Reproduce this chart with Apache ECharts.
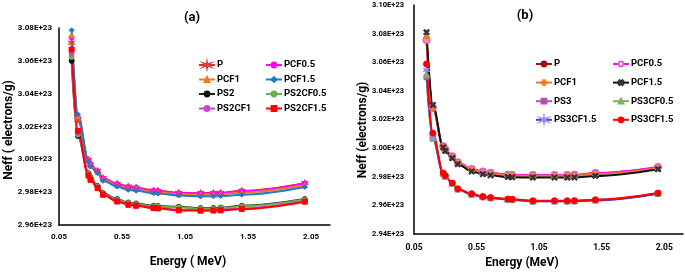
<!DOCTYPE html>
<html><head><meta charset="utf-8">
<script src="https://cdn.jsdelivr.net/npm/echarts@6/dist/echarts.min.js"></script>
<style>html,body{margin:0;padding:0;background:#fff}#c{width:685px;height:272px}</style>
</head><body><div id="c"></div>
<script>
// Energies (MeV)
const energies = [0.15, 0.2, 0.284, 0.3, 0.356, 0.4, 0.511, 0.6, 0.662, 0.8, 0.835, 1.0, 1.173, 1.275, 1.332, 1.5, 2.0];
const xTicks = [0.05, 0.55, 1.05, 1.55, 2.05];
const yTicksA = [2.96, 2.98, 3.00, 3.02, 3.04, 3.06, 3.08];
const yTicksB = [2.94, 2.96, 2.98, 3.00, 3.02, 3.04, 3.06, 3.08, 3.10];

// Panel (a) Neff, units of 1E+23 electrons/g
const a_P        = [3.0710, 3.0240, 2.9996, 2.9970, 2.9930, 2.9885, 2.9851, 2.9834, 2.9828, 2.9810, 2.9808, 2.9796, 2.9794, 2.9795, 2.9796, 2.9808, 2.9855];
const a_PCF05    = [3.0742, 3.0255, 2.9994, 2.9968, 2.9928, 2.9883, 2.9849, 2.9832, 2.9826, 2.9808, 2.9806, 2.9794, 2.9792, 2.9793, 2.9794, 2.9806, 2.9853];
const a_PCF1     = [3.0756, 3.0262, 2.9990, 2.9962, 2.9922, 2.9877, 2.9842, 2.9824, 2.9818, 2.9801, 2.9799, 2.9787, 2.9785, 2.9786, 2.9787, 2.9797, 2.9843];
const a_PCF15    = [3.0786, 3.0274, 2.9986, 2.9956, 2.9916, 2.9869, 2.9834, 2.9814, 2.9808, 2.9794, 2.9792, 2.9780, 2.9774, 2.9775, 2.9776, 2.9784, 2.9831];
const a_PS2      = [3.0600, 3.0142, 2.9915, 2.9890, 2.9838, 2.9794, 2.9758, 2.9737, 2.9731, 2.9717, 2.9715, 2.9711, 2.9703, 2.9704, 2.9706, 2.9717, 2.9758];
const a_PS2CF05  = [3.0624, 3.0150, 2.9912, 2.9887, 2.9835, 2.9791, 2.9755, 2.9734, 2.9728, 2.9714, 2.9712, 2.9708, 2.9700, 2.9701, 2.9703, 2.9714, 2.9755];
const a_PS2CF1   = [3.0645, 3.0162, 2.9906, 2.9880, 2.9830, 2.9788, 2.9748, 2.9727, 2.9721, 2.9707, 2.9705, 2.9693, 2.9691, 2.9692, 2.9693, 2.9701, 2.9746];
const a_PS2CF15  = [3.0669, 3.0173, 2.9901, 2.9875, 2.9825, 2.9784, 2.9743, 2.9723, 2.9717, 2.9703, 2.9701, 2.9689, 2.9687, 2.9688, 2.9689, 2.9697, 2.9742];

// Panel (b)
const b_P        = [3.0762, 3.0280, 3.0011, 2.9988, 2.9941, 2.9900, 2.9853, 2.9835, 2.9826, 2.9812, 2.9810, 2.9811, 2.9811, 2.9811, 2.9812, 2.9824, 2.9866];
const b_PCF05    = [3.0755, 3.0283, 3.0013, 2.9990, 2.9943, 2.9902, 2.9855, 2.9837, 2.9828, 2.9814, 2.9812, 2.9813, 2.9813, 2.9813, 2.9814, 2.9826, 2.9868];
const b_PCF1     = [3.0770, 3.0278, 3.0008, 2.9985, 2.9938, 2.9897, 2.9850, 2.9831, 2.9822, 2.9808, 2.9806, 2.9807, 2.9807, 2.9807, 2.9808, 2.9820, 2.9862];
const b_PCF15    = [3.0810, 3.0302, 3.0005, 2.9980, 2.9930, 2.9888, 2.9837, 2.9818, 2.9810, 2.9798, 2.9796, 2.9795, 2.9794, 2.9794, 2.9795, 2.9806, 2.9853];
const b_PS3      = [3.0496, 3.0068, 2.9822, 2.9803, 2.9752, 2.9713, 2.9677, 2.9659, 2.9652, 2.9641, 2.9640, 2.9629, 2.9629, 2.9629, 2.9630, 2.9636, 2.9683];
const b_PS3CF05  = [3.0512, 3.0070, 2.9823, 2.9804, 2.9753, 2.9714, 2.9678, 2.9660, 2.9653, 2.9642, 2.9641, 2.9630, 2.9630, 2.9630, 2.9631, 2.9637, 2.9684];
const b_PS3CF15a = [3.0546, 3.0080, 2.9822, 2.9803, 2.9752, 2.9712, 2.9677, 2.9658, 2.9651, 2.9640, 2.9639, 2.9628, 2.9628, 2.9628, 2.9629, 2.9635, 2.9682];
const b_PS3CF15b = [3.0588, 3.0105, 2.9826, 2.9807, 2.9756, 2.9716, 2.9681, 2.9662, 2.9655, 2.9644, 2.9643, 2.9632, 2.9632, 2.9632, 2.9633, 2.9639, 2.9686];

function starPath(n, ro, ri) {
  let s = 'path://';
  for (let i = 0; i < 2 * n; i++) {
    const r = i % 2 === 0 ? ro : ri;
    const ang = Math.PI * i / n - Math.PI / 2;
    s += (i === 0 ? 'M' : 'L') + (10 + r * Math.cos(ang)).toFixed(2) + ',' + (10 + r * Math.sin(ang)).toFixed(2) + ' ';
  }
  return s + 'Z';
}
const asterisk = starPath(6, 10, 2.6);
const xMark = 'path://M0,2 L2,0 L5,3 L8,0 L10,2 L7,5 L10,8 L8,10 L5,7 L2,10 L0,8 L3,5 Z';
const plusMark = 'path://M3.8,0 L6.2,0 L6.2,3.8 L10,3.8 L10,6.2 L6.2,6.2 L6.2,10 L3.8,10 L3.8,6.2 L0,6.2 L0,3.8 L3.8,3.8 Z';

const FONT = '"Liberation Sans Narrow", "Roboto", sans-serif';

function zip(ys) { return energies.map((e, i) => [e, ys[i]]); }
function mk(id, idx, ys, line, sym, symColor, symSize, extra) {
  const s = {
    type: 'line', name: id, xAxisIndex: idx, yAxisIndex: idx,
    data: zip(ys), smooth: 0.35, smoothMonotone: 'x',
    lineStyle: { color: line, width: 2 },
    itemStyle: { color: symColor, borderColor: symColor, borderWidth: 1 },
    symbol: sym, symbolSize: symSize, showSymbol: true, animation: false,
    z: 2
  };
  if (extra) Object.assign(s.itemStyle, extra);
  s.color = line;
  return s;
}

const series = [
  mk('a|P', 0, a_P, '#C0392B', asterisk, '#E0403A', 7),
  mk('a|PCF0.5', 0, a_PCF05, '#FF00FF', 'circle', '#FF00FF', 5),
  mk('a|PCF1', 0, a_PCF1, '#F07A22', 'triangle', '#F07A22', 5),
  mk('a|PCF1.5', 0, a_PCF15, '#1F7AC8', 'diamond', '#1F7AC8', 5),
  mk('a|PS2', 0, a_PS2, '#222222', 'circle', '#111111', 5),
  mk('a|PS2CF0.5', 0, a_PS2CF05, '#70AD47', 'circle', '#70AD47', 5),
  mk('a|PS2CF1', 0, a_PS2CF1, '#CC44CC', 'circle', '#CC44CC', 5),
  mk('a|PS2CF1.5', 0, a_PS2CF15, '#FF0000', 'rect', '#FF0000', 5),

  mk('b|P', 1, b_P, '#A01010', 'circle', '#A01010', 6),
  mk('b|PCF0.5', 1, b_PCF05, '#FF00FF', 'emptyCircle', '#FF00FF', 6, { color: '#E060C0' }),
  mk('b|PCF1', 1, b_PCF1, '#F07A22', plusMark, '#F07A22', 6),
  mk('b|PCF1.5', 1, b_PCF15, '#111111', xMark, '#333333', 6),
  mk('b|PS3', 1, b_PS3, '#B050B0', 'rect', '#B050B0', 5),
  mk('b|PS3CF0.5', 1, b_PS3CF05, '#80B060', 'triangle', '#80B060', 6),
  mk('b|PS3CF1.5', 1, b_PS3CF15a, '#4040D0', asterisk, '#9090F0', 7),
  mk('b|PS3CF1.5#2', 1, b_PS3CF15b, '#FF0000', 'circle', '#FF0000', 6)
];

function legend(prefix, ids, left, top, gap) {
  return {
    orient: 'vertical', left: left, top: top, itemGap: gap, padding: 0,
    itemWidth: 16, itemHeight: 6,
    data: ids.map(n => prefix + n),
    formatter: n => n.split('|')[1].replace('#2', ''),
    textStyle: { fontFamily: FONT, fontWeight: 'bold', fontSize: 9.5, color: '#000', padding: [0, 0, 0, -3] },
    selectedMode: false
  };
}

const lbl = (sz) => ({ fontFamily: FONT, fontWeight: 'bold', fontSize: sz, color: '#000' });

const xAxisBase = (idx, sz, margin) => ({
  type: 'value', gridIndex: idx, min: 0.05, max: 2.2,
  axisLine: { show: true, lineStyle: { color: '#000', width: 1.5 } },
  axisTick: { show: false },
  splitLine: { show: false },
  axisLabel: Object.assign({ customValues: xTicks, margin: margin, formatter: v => v.toFixed(2) }, lbl(sz))
});
const yAxisBase = (idx, min, max, ticks, sz, margin) => ({
  type: 'value', gridIndex: idx, min: min, max: max, interval: 0.02,
  axisLine: { show: true, lineStyle: { color: '#000', width: 1.5 } },
  axisTick: { show: false },
  splitLine: { show: false },
  axisLabel: Object.assign({ customValues: ticks, margin: margin, formatter: v => v.toFixed(2) + 'E+23' }, lbl(sz))
});

const option = {
  animation: false,
  backgroundColor: '#fff',
  grid: [
    { left: 59, top: 28, width: 271, height: 197 },
    { left: 414, top: 5, width: 269, height: 229 }
  ],
  xAxis: [xAxisBase(0, 8, 8), xAxisBase(1, 8.5, 9)],
  yAxis: [yAxisBase(0, 2.96, 3.08, yTicksA, 8, 7), yAxisBase(1, 2.94, 3.10, yTicksB, 7.5, 10)],
  legend: [
    legend('a|', ['P', 'PCF1', 'PS2', 'PS2CF1'], 198, 60, 4.5),
    legend('a|', ['PCF0.5', 'PCF1.5', 'PS2CF0.5', 'PS2CF1.5'], 265, 60, 4.5),
    legend('b|', ['P', 'PCF1', 'PS3', 'PS3CF1.5'], 535, 59, 8.6),
    legend('b|', ['PCF0.5', 'PCF1.5', 'PS3CF0.5', 'PS3CF1.5#2'], 612, 59, 8.6)
  ],
  series: series,
  graphic: [
    { type: 'text', x: 192, y: 18, style: { text: '(a)', font: 'bold 13px ' + FONT, fill: '#000', align: 'center', verticalAlign: 'middle' } },
    { type: 'text', x: 525, y: 16, style: { text: '(b)', font: 'bold 13px ' + FONT, fill: '#000', align: 'center', verticalAlign: 'middle' } },
    { type: 'text', x: 9, y: 130, rotation: Math.PI / 2, style: { text: 'Neff ( electrons/g)', font: 'bold 12px ' + FONT, fill: '#000', align: 'center', verticalAlign: 'middle' } },
    { type: 'text', x: 363, y: 130, rotation: Math.PI / 2, style: { text: 'Neff (electrons/g)', font: 'bold 12px ' + FONT, fill: '#000', align: 'center', verticalAlign: 'middle' } },
    { type: 'text', x: 188, y: 262, style: { text: 'Energy ( MeV)', font: 'bold 12px ' + FONT, fill: '#000', align: 'center', verticalAlign: 'middle' } },
    { type: 'text', x: 522, y: 263, style: { text: 'Energy (MeV)', font: 'bold 12px ' + FONT, fill: '#000', align: 'center', verticalAlign: 'middle' } }
  ]
};
const chart = echarts.init(document.getElementById('c'), null, { renderer: 'canvas' });
chart.setOption(option);
</script></body></html>
